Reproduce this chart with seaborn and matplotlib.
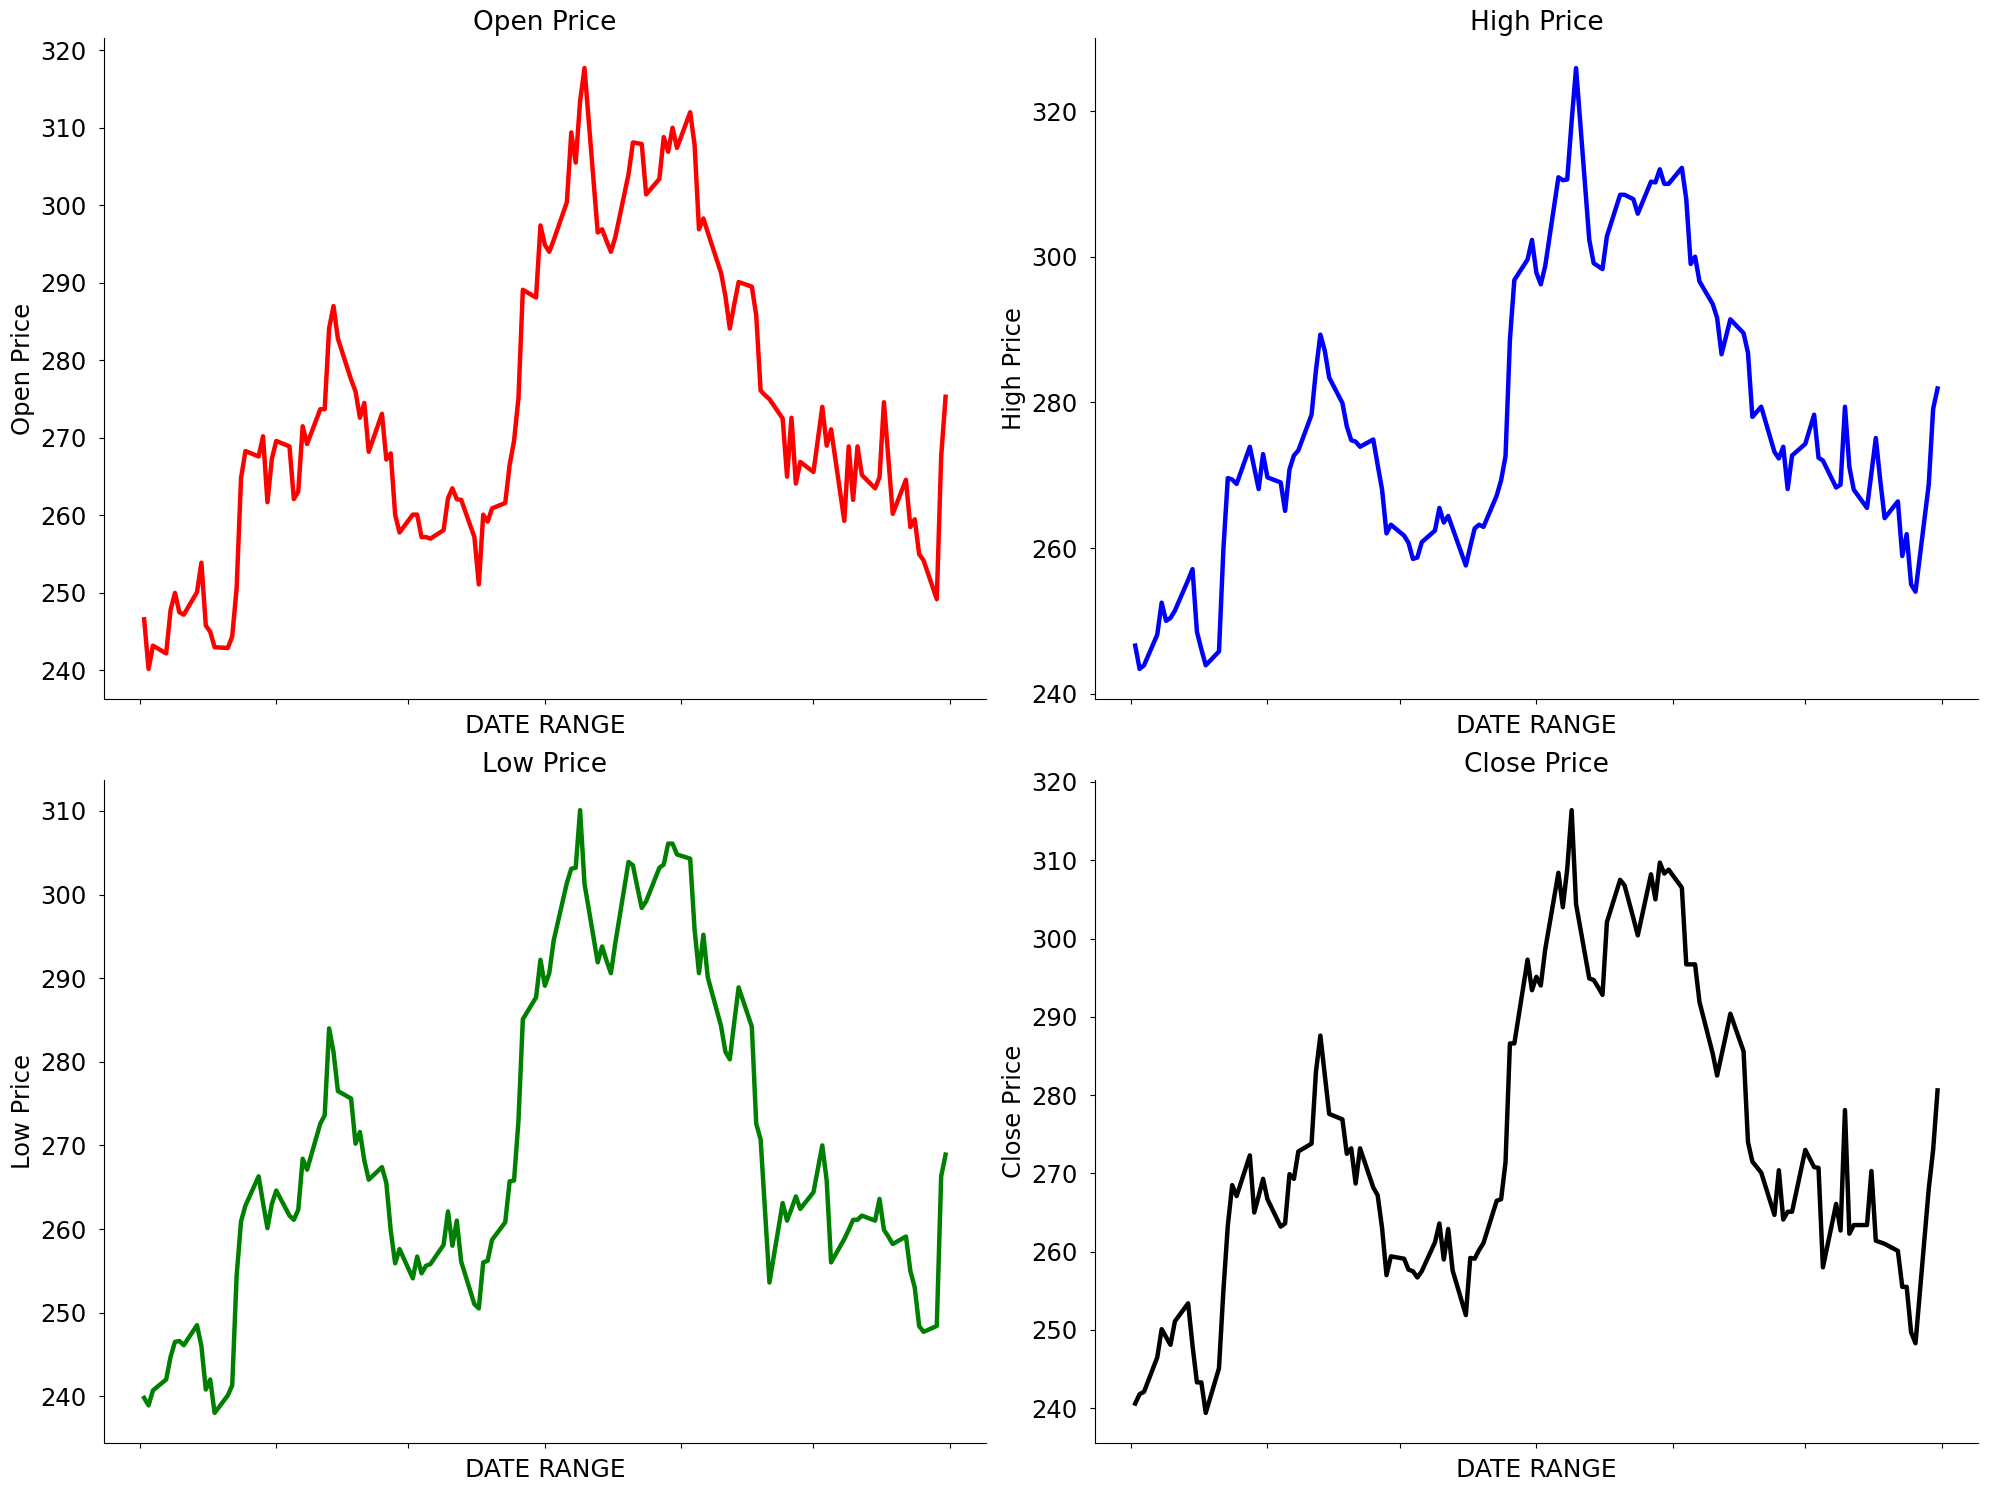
import pandas as pd
import matplotlib
matplotlib.use("Agg")
import matplotlib.pyplot as plt
import matplotlib.dates as mdates
import seaborn as sns

# Trading days shown on the x axis (weekdays, May-Oct)
dates = pd.bdate_range("2018-05-02", "2018-10-31")

open_price = [
    246.6, 240.2, 243.2, 242.2, 247.8, 250.0, 247.5, 247.2, 250.1, 253.9, 245.8,
    245.0, 243.0, 242.9, 244.4, 250.6, 264.8, 268.3, 267.6, 270.2, 261.7, 267.3,
    269.6, 268.9, 262.1, 263.1, 271.5, 269.2, 273.7, 273.7, 284.1, 287.0, 282.8,
    277.5, 276.0, 272.6, 274.5, 268.2, 273.1, 267.2, 268.0, 260.1, 257.8,
    260.1, 260.1, 257.2, 257.2, 257.0, 258.1, 262.2, 263.5, 262.1, 262.0, 257.2,
    251.1, 260.1, 259.2, 260.9, 261.6, 266.5, 269.6, 275.1, 289.1, 288.1, 297.4,
    294.9, 294.0, 295.5, 300.4, 309.4, 305.5, 313.4, 317.7, 296.5, 296.9, 295.4,
    294.0, 295.9, 304.0, 308.1, 308.0, 307.9, 301.4, 303.4, 308.8, 306.9, 310.0, 307.4,
    312.0, 307.8, 296.9, 298.3, 296.5, 291.3, 288.3, 284.1, 287.2, 290.1,
    289.5, 285.8, 276.1, 275.5, 275.0, 272.5, 265.0, 272.6, 264.1, 266.9,
    265.6, 269.8, 274.0, 269.0, 271.1, 259.3, 268.9, 262.0, 268.9, 265.2, 263.5,
    264.9, 274.6, 267.4, 260.2, 264.6, 258.5, 259.5, 255.0, 254.2, 249.2, 267.6, 275.3,
]

high_price = [
    246.6, 243.4, 243.9, 248.1, 252.5, 250.0, 250.4, 251.4, 255.6, 257.1, 248.5,
    246.1, 243.9, 245.8, 259.8, 269.6, 269.4, 268.8, 273.9, 271.0, 268.1, 272.9,
    269.7, 269.0, 265.1, 270.8, 272.7, 273.4, 278.3, 284.4, 289.3, 287.1, 283.4,
    279.9, 276.7, 274.8, 274.6, 273.9, 274.9, 271.4, 268.0, 262.0, 263.2,
    261.7, 260.7, 258.5, 258.7, 260.8, 262.4, 265.5, 263.5, 264.4, 262.7, 257.6,
    260.2, 262.7, 263.2, 262.9, 267.2, 269.3, 272.6, 288.6, 296.8, 299.6, 302.3,
    297.8, 296.2, 298.7, 310.9, 310.5, 310.6, 318.6, 325.9, 302.3, 299.1, 298.7,
    298.3, 302.8, 308.5, 308.5, 308.2, 307.9, 305.9, 310.3, 310.2, 312.0, 310.0, 310.0,
    312.2, 307.9, 299.0, 300.0, 296.6, 293.5, 291.6, 286.6, 289.0, 291.4,
    289.5, 286.8, 278.0, 278.7, 279.4, 273.2, 272.3, 273.9, 268.1, 272.7,
    274.3, 276.3, 278.3, 272.4, 272.0, 268.3, 268.7, 279.4, 271.1, 268.0, 265.5,
    270.3, 275.1, 269.3, 264.1, 266.4, 258.9, 261.9, 255.0, 254.0, 268.7, 279.1, 281.9,
]

low_price = [
    239.8, 238.9, 240.7, 242.0, 244.7, 246.5, 246.6, 246.1, 248.5, 246.0, 240.8,
    242.0, 238.0, 240.1, 241.3, 254.4, 260.9, 262.8, 266.3, 263.1, 260.1, 263.0,
    264.6, 261.6, 261.1, 262.3, 268.4, 267.1, 272.6, 273.6, 284.0, 281.2, 276.5,
    275.6, 270.2, 271.6, 268.2, 265.9, 267.4, 265.5, 259.8, 255.9, 257.6,
    254.1, 256.7, 254.7, 255.6, 255.8, 258.1, 262.1, 258.0, 261.0, 256.1, 251.0,
    250.5, 256.0, 256.2, 258.7, 260.8, 265.7, 265.8, 272.9, 285.1, 287.7, 292.2,
    289.1, 290.6, 294.5, 301.4, 303.1, 303.2, 310.1, 301.3, 291.9, 293.8, 292.1,
    290.6, 294.2, 303.9, 303.5, 300.9, 298.4, 299.2, 303.2, 303.6, 306.1, 306.1, 304.8,
    304.3, 295.8, 290.6, 295.2, 290.1, 284.3, 281.2, 280.3, 284.7, 288.9,
    284.2, 272.6, 270.7, 262.2, 253.6, 263.1, 261.0, 262.4, 263.9, 262.4,
    264.4, 267.2, 270.0, 265.8, 256.0, 258.8, 259.9, 261.1, 261.1, 261.6, 261.0,
    263.6, 259.9, 259.1, 258.2, 259.1, 255.0, 253.0, 248.4, 247.7, 248.4, 266.3, 268.9,
]

close_price = [
    240.6, 241.8, 242.1, 246.5, 250.1, 249.1, 248.1, 251.1, 253.4, 248.0, 243.3,
    243.3, 239.4, 245.1, 255.0, 263.3, 268.5, 267.1, 272.3, 265.0, 267.1, 269.3,
    266.7, 263.2, 263.6, 269.9, 269.3, 272.8, 273.8, 283.0, 287.6, 282.6, 277.6,
    276.9, 272.5, 273.2, 268.7, 273.2, 268.2, 267.2, 263.0, 257.0, 259.4,
    259.1, 257.7, 257.5, 256.7, 257.5, 261.2, 263.6, 259.0, 262.9, 257.6, 251.9,
    259.2, 259.1, 260.2, 261.1, 266.5, 266.7, 271.4, 286.6, 286.6, 297.3, 293.4,
    295.1, 294.0, 298.6, 308.4, 304.0, 308.9, 316.4, 304.4, 294.9, 294.7, 293.8,
    292.8, 302.1, 307.5, 306.8, 304.7, 302.6, 300.4, 308.2, 305.0, 309.7, 308.3, 308.8,
    306.5, 296.7, 296.7, 296.7, 291.9, 285.3, 282.5, 285.1, 287.7, 290.4,
    285.6, 274.0, 271.5, 270.8, 270.1, 264.7, 270.4, 264.1, 265.1, 265.1,
    273.0, 271.9, 270.8, 270.7, 258.0, 266.1, 262.7, 278.1, 262.3, 263.4, 263.4,
    270.3, 261.4, 261.2, 261.0, 260.1, 255.5, 255.5, 249.7, 248.3, 268.0, 273.0, 280.6,
]

panel_titles = ["Open Price", "High Price", "Low Price", "Close Price"]
panel_colors = ["red", "blue", "green", "black"]
panel_values = [open_price, high_price, low_price, close_price]

# axes boxes in figure fractions: left, bottom, width, height
panel_boxes = [
    [0.0523, 0.5309, 0.4430, 0.4436],
    [0.5503, 0.5309, 0.4435, 0.4436],
    [0.0523, 0.0315, 0.4430, 0.4450],
    [0.5503, 0.0315, 0.4435, 0.4450],
]

fig = plt.figure(figsize=(19.9, 14.9), dpi=100)

for title, color, values, box in zip(panel_titles, panel_colors, panel_values, panel_boxes):
    ax = fig.add_axes(box)
    df = pd.DataFrame({"Date": dates, "Price": values})
    sns.lineplot(data=df, x="Date", y="Price", ax=ax, color=color, linewidth=3.2)
    ax.set_title(title, fontsize=19)
    ax.set_xlabel("DATE RANGE", fontsize=18)
    ax.set_ylabel(title, fontsize=17.5)
    ax.xaxis.set_major_locator(mdates.MonthLocator())
    ax.set_xticklabels([])
    ax.tick_params(axis="y", labelsize=17.5, pad=9)
    sns.despine(ax=ax)

fig.savefig("out.png", dpi=100)
